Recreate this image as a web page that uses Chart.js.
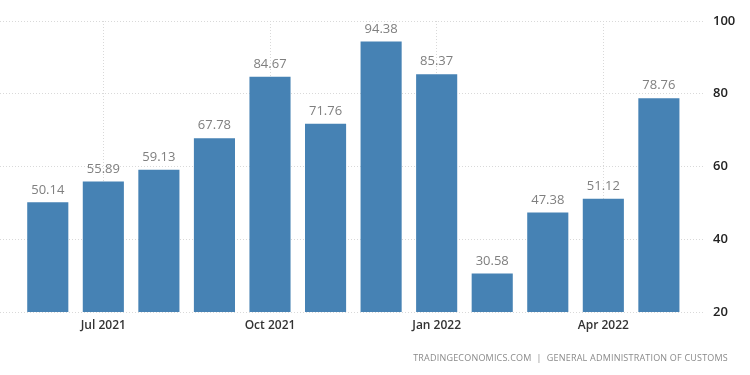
<!DOCTYPE html>
<html>
<head>
<meta charset="utf-8">
<script src="https://cdn.jsdelivr.net/npm/chart.js@4.4.0/dist/chart.umd.min.js"></script>
<style>
    body { margin: 0; background: #fff; }
    #wrap { width: 750px; height: 375px; }
</style>
</head>
<body>
<div id="wrap"><canvas id="chart" width="750" height="375"></canvas></div>
<script>
// monthly values, Jun 2021 - May 2022
const months = ['Jun 2021', 'Jul 2021', 'Aug 2021', 'Sep 2021', 'Oct 2021', 'Nov 2021',
                'Dec 2021', 'Jan 2022', 'Feb 2022', 'Mar 2022', 'Apr 2022', 'May 2022'];
const values = [50.14, 55.89, 59.13, 67.78, 84.67, 71.76, 94.38, 85.37, 30.58, 47.38, 51.12, 78.76];
const labeledMonths = ['Jul 2021', 'Oct 2021', 'Jan 2022', 'Apr 2022'];
const yTicks = [20, 40, 60, 80, 100];

const barColor = '#4682b4';
const gridColor = '#d9d9d9';

function isLabeled(value) {
    return labeledMonths.includes(months[value]);
}

// value labels above each bar
const valueLabels = {
    id: 'valueLabels',
    afterDatasetsDraw(chart) {
        const ctx = chart.ctx;
        const meta = chart.getDatasetMeta(0);
        ctx.save();
        ctx.font = '13px "Open Sans"';
        ctx.fillStyle = '#7f7f7f';
        ctx.textAlign = 'center';
        ctx.textBaseline = 'bottom';
        meta.data.forEach((bar, i) => {
            ctx.fillText(values[i].toFixed(2), bar.x, bar.y - 6);
        });
        ctx.restore();
    }
};

// source line bottom right
const sourceNote = {
    id: 'sourceNote',
    afterDraw(chart) {
        const ctx = chart.ctx;
        ctx.save();
        ctx.font = '9px "Open Sans"';
        ctx.fillStyle = '#8a8a8a';
        ctx.letterSpacing = '0.2px';
        ctx.textAlign = 'right';
        ctx.textBaseline = 'middle';
        ctx.fillText('TRADINGECONOMICS.COM  |  GENERAL ADMINISTRATION OF CUSTOMS', 728, 358);
        ctx.restore();
    }
};

new Chart(document.getElementById('chart'), {
    type: 'bar',
    data: {
        datasets: [{
            data: values.map((v, i) => ({ x: i, y: v })),
            backgroundColor: barColor,
            borderWidth: 0,
            barPercentage: 0.74,
            categoryPercentage: 1
        }]
    },
    plugins: [valueLabels, sourceNote],
    options: {
        responsive: false,
        animation: false,
        layout: { padding: { top: 21, left: 0, right: 0, bottom: 0 } },
        plugins: { legend: { display: false }, tooltip: { enabled: false } },
        scales: {
            x: {
                type: 'linear',
                offset: false,
                min: -0.86,
                max: 11.83,
                afterBuildTicks: scale => {
                    scale.ticks = months.map((m, i) => ({ value: i }));
                },
                afterFit: scale => { scale.height = 63; },
                grid: {
                    offset: false,
                    drawTicks: false,
                    color: ctx => (ctx.tick && isLabeled(ctx.tick.value)) ? gridColor : 'rgba(0,0,0,0)'
                },
                border: { display: false, dash: [1, 2] },
                ticks: {
                    padding: 6,
                    autoSkip: false,
                    maxRotation: 0,
                    color: '#333',
                    font: { family: 'Open Sans', size: 12, weight: '600' },
                    callback: value => isLabeled(value) ? months[value] : ''
                }
            },
            y: {
                position: 'right',
                min: 20,
                max: 100,
                afterBuildTicks: scale => {
                    scale.ticks = yTicks.map(v => ({ value: v }));
                },
                afterFit: scale => { scale.width = 45; },
                grid: { drawTicks: false, color: gridColor },
                border: { display: false, dash: [1, 2] },
                ticks: {
                    padding: 8,
                    color: '#222',
                    font: { family: 'Open Sans', size: 13, weight: '600' }
                }
            }
        }
    }
});
</script>
</body>
</html>
